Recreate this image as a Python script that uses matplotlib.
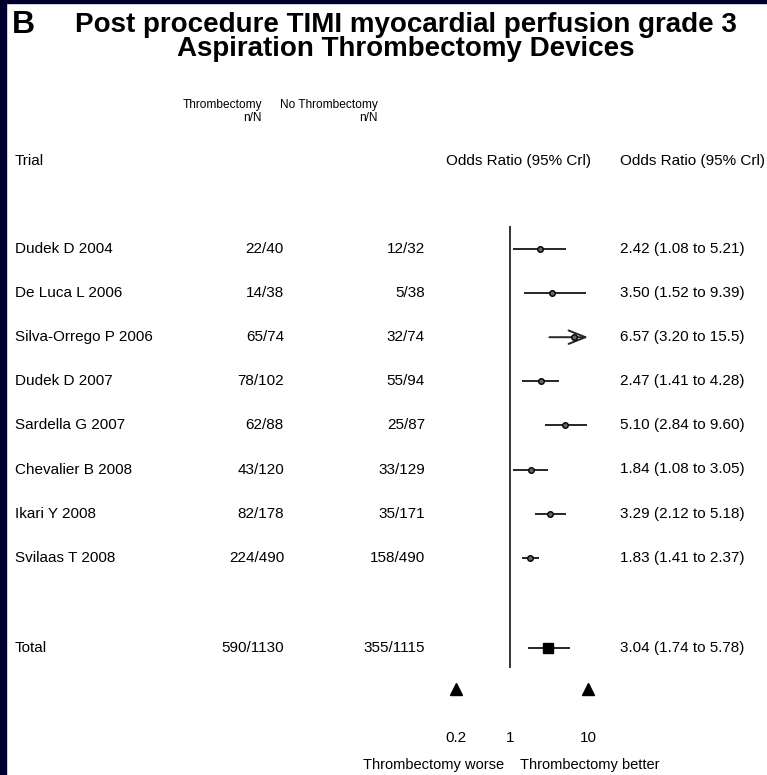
import matplotlib.pyplot as plt
import matplotlib.transforms as mtransforms

trials = ["Dudek D 2004", "De Luca L 2006", "Silva-Orrego P 2006", "Dudek D 2007",
          "Sardella G 2007", "Chevalier B 2008", "Ikari Y 2008", "Svilaas T 2008"]
thromb_events = ["22/40", "14/38", "65/74", "78/102", "62/88", "43/120", "82/178", "224/490"]
control_events = ["12/32", "5/38", "32/74", "55/94", "25/87", "33/129", "35/171", "158/490"]
odds_ratio = [2.42, 3.50, 6.57, 2.47, 5.10, 1.84, 3.29, 1.83]
ci_low = [1.08, 1.52, 3.20, 1.41, 2.84, 1.08, 2.12, 1.41]
ci_high = [5.21, 9.39, 15.5, 4.28, 9.60, 3.05, 5.18, 2.37]

total_thromb = "590/1130"
total_control = "355/1115"
total_or, total_lo, total_hi = 3.04, 1.74, 5.78

xticks = [0.2, 1, 10]
xtick_labels = ["0.2", "1", "10"]

W, H = 767, 775
LINE = "#262626"
BODY = 11

plt.rcParams['font.family'] = ['Liberation Sans', 'DejaVu Sans']


def fx(px):
    return px / W


def fy(py):
    return 1 - py / H


def fmt(v):
    return f"{v:#.3g}"


fig = plt.figure(figsize=(W / 100, H / 100), dpi=100)
fig.patch.set_facecolor("white")

# dark frame on the left and top edges
fig.patches.append(plt.Rectangle((0, 0), fx(6), 1, transform=fig.transFigure,
                                 color="#00002e", zorder=0))
fig.patches.append(plt.Rectangle((0, fy(3)), 1, 3 / H, transform=fig.transFigure,
                                 color="#00002e", zorder=0))

# forest axes: x=0.2 at 455.5px, x=10 at 588px; rows ~44px apart, first row at 249px
row_px = 44.1
first_py = 249.0
top_py, bot_py = 226.0, 668.0
ax = fig.add_axes([fx(455.5), fy(bot_py), fx(588) - fx(455.5), (bot_py - top_py) / H])
ax.set_xscale("log")
ax.set_xlim(0.2, 10)
ax.set_ylim((bot_py - first_py) / row_px, (top_py - first_py) / row_px)
ax.axis("off")
ax.axvline(1, color="#333333", lw=1.4)

n = len(trials)
rows = list(range(n))
total_row = (648 - first_py) / row_px

for r, est, lo, hi in zip(rows, odds_ratio, ci_low, ci_high):
    if hi > 10:
        ax.annotate("", xy=(10, r), xytext=(lo, r), annotation_clip=False,
                    arrowprops=dict(arrowstyle="->, head_length=0.55, head_width=0.22",
                                    lw=1.4, color=LINE, mutation_scale=22,
                                    shrinkA=0, shrinkB=0))
    else:
        ax.plot([lo, hi], [r, r], color=LINE, lw=1.4, solid_capstyle="butt")
    ax.plot(est, r, "o", ms=4, mfc="#666666", mec="black", mew=1.0, zorder=3)

ax.plot([total_lo, total_hi], [total_row, total_row], color=LINE, lw=1.4)
ax.plot(total_or, total_row, "s", ms=7.5, color="black", zorder=3)

tri_row = (689 - first_py) / row_px
ax.plot([xticks[0], xticks[-1]], [tri_row, tri_row], "^", ms=9, color="black",
        clip_on=False, ls="none")

tick_row = (738 - first_py) / row_px
for v, lab in zip(xticks, xtick_labels):
    ax.text(v, tick_row, lab, ha="center", va="center", fontsize=BODY, clip_on=False)

# text columns: x in figure pixels, y in rows
tr = mtransforms.blended_transform_factory(fig.transFigure, ax.transData)

for r, name, a, b, est, lo, hi in zip(rows, trials, thromb_events, control_events,
                                      odds_ratio, ci_low, ci_high):
    fig.text(fx(15), r, name, transform=tr, ha="left", va="center", fontsize=BODY)
    fig.text(fx(284), r, a, transform=tr, ha="right", va="center", fontsize=BODY)
    fig.text(fx(425), r, b, transform=tr, ha="right", va="center", fontsize=BODY)
    fig.text(fx(620), r, f"{fmt(est)} ({fmt(lo)} to {fmt(hi)})", transform=tr,
             ha="left", va="center", fontsize=BODY)

fig.text(fx(15), total_row, "Total", transform=tr, ha="left", va="center", fontsize=BODY)
fig.text(fx(284), total_row, total_thromb, transform=tr, ha="right", va="center", fontsize=BODY)
fig.text(fx(425), total_row, total_control, transform=tr, ha="right", va="center", fontsize=BODY)
fig.text(fx(620), total_row, f"{fmt(total_or)} ({fmt(total_lo)} to {fmt(total_hi)})",
         transform=tr, ha="left", va="center", fontsize=BODY)

# headers
fig.text(fx(15), fy(161), "Trial", ha="left", va="center", fontsize=BODY)
fig.text(fx(519), fy(161), "Odds Ratio (95% Crl)", ha="center", va="center", fontsize=BODY)
fig.text(fx(620), fy(161), "Odds Ratio (95% Crl)", ha="left", va="center", fontsize=BODY)
fig.text(fx(262), fy(105), "Thrombectomy", ha="right", va="center", fontsize=8.6)
fig.text(fx(262), fy(118), "n/N", ha="right", va="center", fontsize=8.6)
fig.text(fx(378), fy(105), "No Thrombectomy", ha="right", va="center", fontsize=8.6)
fig.text(fx(378), fy(118), "n/N", ha="right", va="center", fontsize=8.6)

# bottom direction labels
fig.text(fx(504), fy(765), "Thrombectomy worse", ha="right", va="center", fontsize=10.5)
fig.text(fx(520), fy(765), "Thrombectomy better", ha="left", va="center", fontsize=10.5)

# title
fig.text(fx(12), fy(25), "B", ha="left", va="center", fontsize=23, fontweight="bold")
fig.text(fx(406), fy(25), "Post procedure TIMI myocardial perfusion grade 3",
         ha="center", va="center", fontsize=20, fontweight="bold")
fig.text(fx(406), fy(49), "Aspiration Thrombectomy Devices",
         ha="center", va="center", fontsize=20, fontweight="bold")

fig.savefig("out.png", dpi=100, facecolor="white")
